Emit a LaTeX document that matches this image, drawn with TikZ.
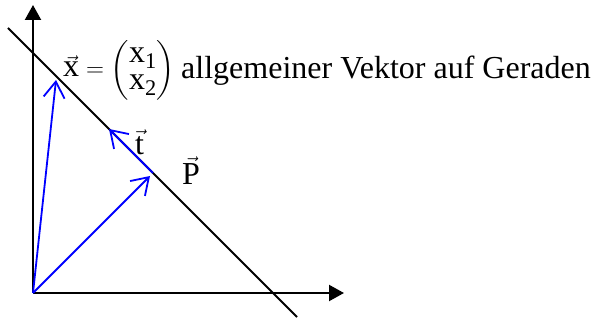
\documentclass[tikz,border=0pt]{standalone}
\usepackage{amsmath}
\usepackage{fontspec}
\setmainfont{Liberation Serif}
\usetikzlibrary{arrows.meta}
\definecolor{vecblue}{RGB}{0,0,255}
\begin{document}
\begin{tikzpicture}[x=1pt,y=1pt,
  axis/.style={line width=2.2pt,-{Triangle[length=15pt,width=16pt]}},
  gerade/.style={line width=1.8pt},
  vecarrow/.style={vecblue,line width=1.8pt,-{Straight Barb[length=16pt,width=21pt,line width=1.8pt]}},
  lbl/.style={inner sep=0pt,anchor=base west,font=\fontsize{32}{38}\selectfont}]
\useasboundingbox (0,0) rectangle (593,320);
\coordinate (O) at (33,27);
\coordinate (Y) at (33,315);
\coordinate (X) at (344,27);
\coordinate (G1) at (8,292);
\coordinate (G2) at (297,3);
\coordinate (XT) at (56,240);
\coordinate (PT) at (150,144);
\coordinate (TS) at (153,147);
\coordinate (TT) at (109,191);
\draw[axis] (O) -- (Y);
\draw[axis] (O) -- (X);
\draw[gerade] (G1) -- (G2);
\draw[vecarrow] (O) -- (XT);
\draw[vecarrow] (O) -- (PT);
\draw[vecarrow] (TS) -- (TT);
\node[lbl] (xdef) at (63,243) {\renewcommand\arraystretch{0.71}$\vec{\mathrm{x}}=\begin{pmatrix}\mathrm{x}_{\mathrm{1}}\\ \mathrm{x}_{\mathrm{2}}\end{pmatrix}$};
\node[lbl] (txt) at (181,241) {allgemeiner Vektor auf Geraden};
\node[lbl] (tl) at (135,165) {$\vec{\mathrm{t}}$};
\node[lbl] (pl) at (182,135) {$\vec{\mathrm{P}}$};
\end{tikzpicture}
\end{document}
